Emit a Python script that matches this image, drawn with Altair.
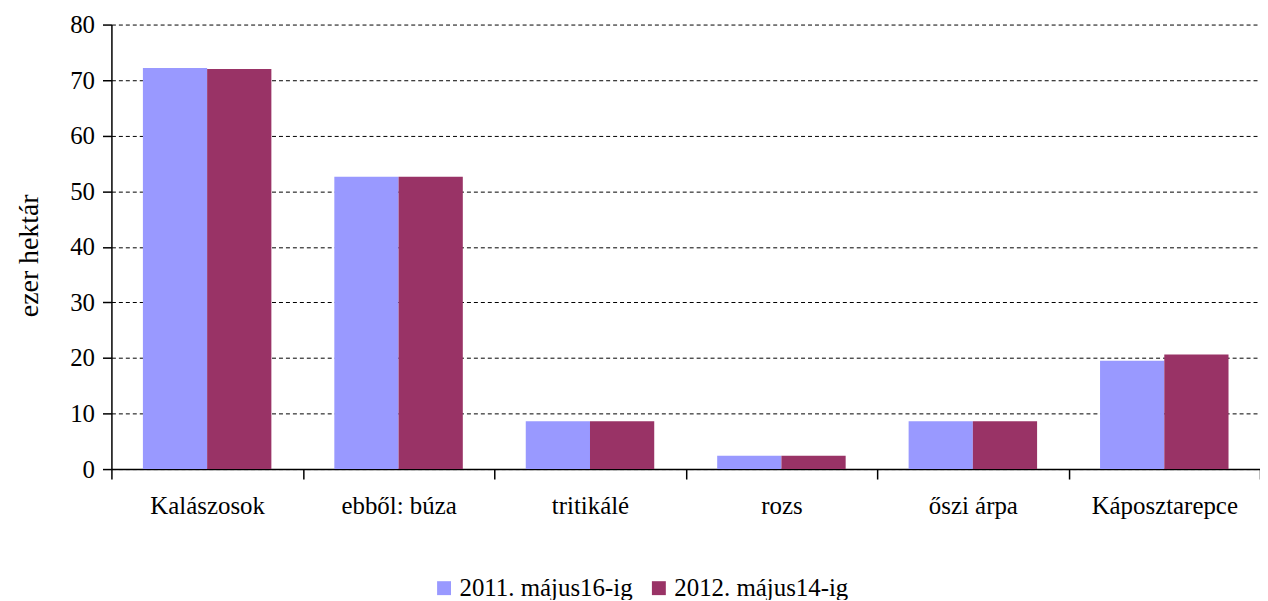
import altair as alt
import pandas as pd

categories = ["Kalászosok", "ebből: búza", "tritikálé", "rozs", "őszi árpa", "Káposztarepce"]
series_names = ["2011. május16-ig", "2012. május14-ig"]
values_2011 = [72.2, 52.6, 8.6, 2.4, 8.6, 19.5]
values_2012 = [72.0, 52.6, 8.6, 2.4, 8.6, 20.6]
colors = ["#9999FF", "#993366"]
y_ticks = [0, 10, 20, 30, 40, 50, 60, 70, 80]

rows = []
for c, v in zip(categories, values_2011):
    rows.append({"cat": c, "series": series_names[0], "value": v})
for c, v in zip(categories, values_2012):
    rows.append({"cat": c, "series": series_names[1], "value": v})
df = pd.DataFrame(rows)

FONT = "Liberation Serif"
FS = 25

chart = alt.Chart(df).mark_bar().encode(
    x=alt.X("cat:N", sort=categories,
            scale=alt.Scale(paddingInner=0, paddingOuter=0),
            axis=alt.Axis(title=None, labelAngle=0, tickBand="extent", tickSize=10,
                          tickColor="black", domainColor="black", domainWidth=1.5,
                          tickWidth=1.5, labelPadding=15, labelFontSize=FS,
                          labelFont=FONT, labelColor="black", grid=False)),
    xOffset=alt.XOffset("series:N", sort=series_names,
                        scale=alt.Scale(paddingInner=0, paddingOuter=0.49)),
    y=alt.Y("value:Q", scale=alt.Scale(domain=[0, 80], nice=False),
            axis=alt.Axis(title="ezer hektár", values=y_ticks, tickSize=9, tickColor="black",
                          tickWidth=1.5, domainColor="black", domainWidth=1.5,
                          labelPadding=8, labelFontSize=FS, labelFont=FONT, labelColor="black",
                          grid=True, gridColor="black", gridDash=[4, 3], gridWidth=1,
                          titleFont=FONT, titleFontSize=28, titleFontWeight="normal",
                          titleColor="black", titleX=-82, titleY=232, titleAngle=-90,
                          titleBaseline="middle", titleAlign="center")),
    color=alt.Color("series:N", sort=series_names,
                    scale=alt.Scale(domain=series_names, range=colors),
                    legend=alt.Legend(title=None, orient="none", direction="horizontal",
                                      legendX=322, legendY=554, symbolType="square",
                                      symbolSize=196, symbolStrokeWidth=0, labelFont=FONT,
                                      labelFontSize=FS, labelColor="black", columnPadding=13,
                                      labelOffset=3, labelLimit=300)),
).properties(
    width=1155, height=447,
    autosize=alt.AutoSizeParams(type="none"),
    padding={"left": 104, "top": 15, "right": 0, "bottom": 130},
).configure_view(stroke=None)

chart.save("out.html", embed_options={"renderer": "svg", "actions": False})
